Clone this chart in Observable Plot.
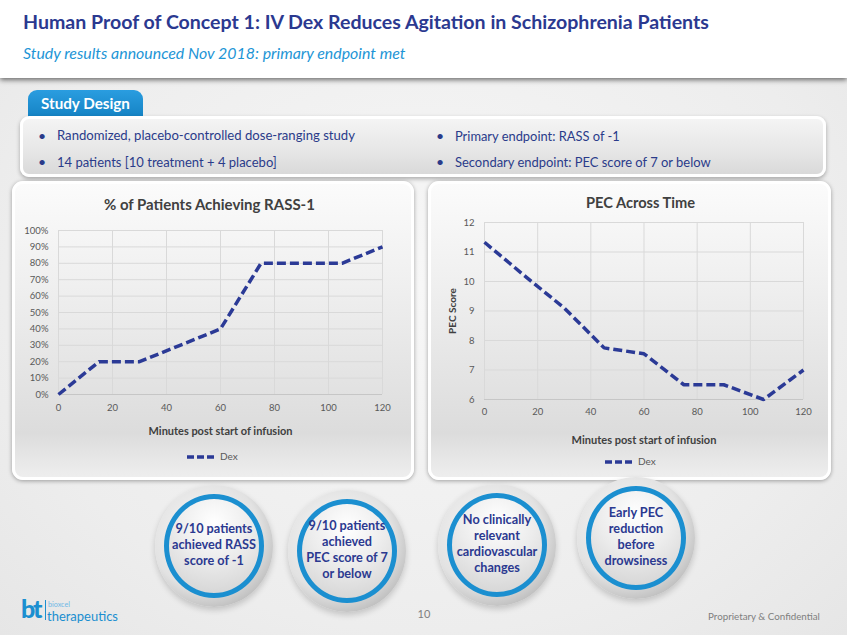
<!DOCTYPE html>
<html><head><meta charset="utf-8">
<script src="https://cdn.jsdelivr.net/npm/d3@7"></script>
<script src="https://cdn.jsdelivr.net/npm/@observablehq/plot@0.6"></script>
<style>
html,body{margin:0;padding:0;}
body{width:847px;height:635px;overflow:hidden;position:relative;font-family:Lato,"Open Sans",sans-serif;
 background:radial-gradient(ellipse at 50% 45%,#f7f7f7 0%,#ededed 70%,#e6e6e6 100%);}
.abs{position:absolute;white-space:nowrap;line-height:1.15;}
#header{position:absolute;left:0;top:0;width:847px;height:78px;background:#fff;box-shadow:0 2px 5px rgba(0,0,0,0.55);}
#tab{position:absolute;left:28px;top:90px;width:115px;height:27px;background:linear-gradient(180deg,#2a9de0,#1583c4);border-radius:9px 9px 0 0;}
#box{position:absolute;left:20px;top:116px;width:800px;height:55px;border:3px solid #fff;border-radius:9px;
 background:linear-gradient(180deg,#f4f4f4 0%,#e6e6e6 60%,#d9d9d9 100%);box-shadow:0 2px 4px rgba(0,0,0,0.3);}
.panel{position:absolute;border:3px solid #fff;border-radius:11px;box-shadow:0 1px 4px rgba(0,0,0,0.35);
 background:linear-gradient(180deg,#fbfbfb 0%,#efefef 35%,#e2e2e2 70%,#dcdcdc 85%,#eeeeee 100%);}
.navy{color:#2b3990;}
.ct{font-weight:700;color:#404040;}
.halo{position:absolute;border-radius:50%;
 background:radial-gradient(circle at 42% 40%,#fafafa 0%,#e2e2e2 55%,#b9b9b9 80%,#e4e4e4 100%);
 box-shadow:0 3px 6px rgba(0,0,0,0.18);}
.ring{position:absolute;border-radius:50%;border:5px solid #1b8fd0;box-sizing:border-box;
 background:radial-gradient(circle at 50% 25%,#ffffff 0%,#ececec 45%,#cfcfcf 100%);}
.ctext{position:absolute;text-align:center;font-weight:700;color:#2b3990;line-height:1.25;white-space:nowrap;}
svg.plot text{font-family:Lato,sans-serif;}
</style></head>
<body>
<div id="header"></div>
<div id="tab"></div>
<div id="box"></div>
<div class="panel" id="pL" style="left:12px;top:181px;width:396px;height:293px;"></div>
<div class="panel" id="pR" style="left:428px;top:181px;width:397px;height:293px;"></div>
<script>
// ---------- data ----------
const minutes   = [0, 15, 30, 45, 60, 75, 90, 105, 120];
const rassPct   = [0, 20, 20, 30, 40, 80, 80, 80, 90];
const pecScore  = [11.33, 10.2, 9.1, 7.75, 7.55, 6.5, 6.5, 6.0, 7.0];
const xTicks    = [0, 20, 40, 60, 80, 100, 120];
const pctTicks  = [0, 10, 20, 30, 40, 50, 60, 70, 80, 90, 100];
const pecTicks  = [6, 7, 8, 9, 10, 11, 12];
const seriesName = "Dex";
const xLabel = "Minutes post start of infusion";
const titleL = "% of Patients Achieving RASS-1";
const titleR = "PEC Across Time";
const yLabelR = "PEC Score";
const bullets = [
  "Randomized, placebo-controlled dose-ranging study",
  "14 patients [10 treatment + 4 placebo]",
  "Primary endpoint: RASS of -1",
  "Secondary endpoint: PEC score of 7 or below"
];
const circleTexts = [
  ["9/10 patients","achieved RASS","score of -1"],
  ["9/10 patients","achieved","PEC score of 7","or below"],
  ["No clinically","relevant","cardiovascular","changes"],
  ["Early PEC","reduction","before","drowsiness"]
];

const LINE = "#2b3a96";
const rassData = minutes.map((m,i)=>({m, v:rassPct[i]}));
const pecData  = minutes.map((m,i)=>({m, v:pecScore[i]}));

// ---------- helpers ----------
function txt(s, cls, style){
  const e=document.createElement("div"); e.className="abs "+(cls||""); e.textContent=s;
  Object.assign(e.style, style||{}); document.body.appendChild(e); return e;
}
function fit(el, w){
  el.style.fontSize="20px";
  const r=el.getBoundingClientRect().width;
  el.style.fontSize=(20*w/r)+"px";
}
function put(el, x, cy, w, center){
  if(w) fit(el,w);
  const r=el.getBoundingClientRect();
  el.style.left=(center? x-r.width/2 : x)+"px";
  el.style.top=(cy-r.height/2)+"px";
}

// ---------- header texts ----------
put(txt("Human Proof of Concept 1: IV Dex Reduces Agitation in Schizophrenia Patients","navy",{fontWeight:700}),23,22,686);
put(txt("Study results announced Nov 2018: primary endpoint met","",{fontStyle:"italic",color:"#1d95d6"}),23,53,383);
put(txt("Study Design","",{fontWeight:700,color:"#fff"}),41,104,89);

const bpos=[[57,136,298],[57,162,220],[455,136,165],[455,162,256]];
bullets.forEach((b,i)=>{
  const [x,cy,w]=bpos[i];
  put(txt(b,"",{color:"#2a3b8a"}),x,cy,w);
  const d=txt("\u2022","",{color:"#2a3b8a",fontSize:"14px"}); put(d,x-19,cy);
});

// ---------- charts ----------
function styleSvg(svg){
  svg.style.position="absolute"; svg.style.overflow="visible";
  return svg;
}
const common = {
  style:{background:"transparent",fontFamily:"Lato, sans-serif",fontSize:"9.5px",color:"#595959"}
};
const lineStyle = {stroke:LINE,strokeWidth:3.5,strokeDasharray:"9,4",strokeLinecap:"butt",strokeLinejoin:"miter"};

const chartL = Plot.plot({
  ...common, width:400, height:232, marginLeft:48, marginRight:28, marginTop:15, marginBottom:53,
  x:{domain:[0,120]}, y:{domain:[0,100]},
  marks:[
    Plot.gridX(xTicks,{stroke:"#d9d9d9",strokeOpacity:1}),
    Plot.gridY(pctTicks,{stroke:"#d9d9d9",strokeOpacity:1}),
    Plot.ruleY([0],{stroke:"#c6c6c6"}),
    Plot.axisX(xTicks,{tickSize:0,tickPadding:10,fill:"#595959",label:xLabel,labelAnchor:"center",labelArrow:"none",labelOffset:40}),
    Plot.axisY(pctTicks,{tickSize:0,tickPadding:10,fill:"#595959",tickFormat:d=>d+"%",label:null}),
    Plot.line(rassData,{x:"m",y:"v",...lineStyle})
  ]
});
styleSvg(chartL); chartL.style.left="10px"; chartL.style.top="215px";
document.body.appendChild(chartL);

const chartR = Plot.plot({
  ...common, width:400, height:245, marginLeft:56, marginRight:25, marginTop:12, marginBottom:56,
  x:{domain:[0,120]}, y:{domain:[6,12]},
  marks:[
    Plot.gridX(xTicks,{stroke:"#d9d9d9",strokeOpacity:1}),
    Plot.gridY(pecTicks,{stroke:"#d9d9d9",strokeOpacity:1}),
    Plot.ruleY([6],{stroke:"#c6c6c6"}),
    Plot.axisX(xTicks,{tickSize:0,tickPadding:9,fill:"#595959",label:xLabel,labelAnchor:"center",labelArrow:"none",labelOffset:44}),
    Plot.axisY(pecTicks,{tickSize:0,tickPadding:10,fill:"#595959",label:yLabelR,labelAnchor:"center",labelArrow:"none",labelOffset:36}),
    Plot.line(pecData,{x:"m",y:"v",...lineStyle})
  ]
});
styleSvg(chartR); chartR.style.left="428px"; chartR.style.top="210px";
document.body.appendChild(chartR);

// style axis labels
[chartL,chartR].forEach(svg=>{
  svg.querySelectorAll('g[aria-label$="-axis label"] text').forEach(t=>{
    t.style.fontWeight="700"; t.style.fill="#404040"; t.setAttribute("fill","#404040");
  });
});
function fitSvgText(svg, sel, w){
  const t=svg.querySelector(sel+" text"); if(!t) return;
  t.style.fontSize="20px";
  const bb=t.getBBox(); t.style.fontSize=(20*w/bb.width)+"px";
}
fitSvgText(chartL,'g[aria-label="x-axis label"]',144);
fitSvgText(chartR,'g[aria-label="x-axis label"]',145);
fitSvgText(chartR,'g[aria-label="y-axis label"]',46);

// chart titles
put(txt(titleL,"ct"),104,205,211);
put(txt(titleR,"ct"),586,203,109);

// legends
function legend(x1,x2,tx,cy){
  const s=document.createElementNS("http://www.w3.org/2000/svg","svg");
  s.setAttribute("width",x2-x1); s.setAttribute("height",8);
  s.style.position="absolute"; s.style.left=x1+"px"; s.style.top=(cy-4)+"px";
  s.innerHTML=`<line x1="0" y1="4" x2="${x2-x1}" y2="4" stroke="${LINE}" stroke-width="3.5" stroke-dasharray="7,3"/>`;
  document.body.appendChild(s);
  put(txt(seriesName,"",{color:"#595959",fontSize:"10px"}),tx,cy);
}
legend(187,215,220,457);
legend(605,633,638,462);

// ---------- circles ----------
const centers=[[214,546],[347,551],[497,545],[636,538]];
centers.forEach(([cx,cy],i)=>{
  const h=document.createElement("div"); h.className="halo";
  Object.assign(h.style,{left:(cx-59)+"px",top:(cy-61)+"px",width:"118px",height:"122px"});
  document.body.appendChild(h);
  const r=document.createElement("div"); r.className="ring";
  Object.assign(r.style,{left:(cx-50)+"px",top:(cy-52)+"px",width:"100px",height:"104px"});
  document.body.appendChild(r);
});
const probe=txt("achieved RASS","",{fontWeight:700}); fit(probe,84);
const cfs=parseFloat(probe.style.fontSize); probe.remove();
centers.forEach(([cx,cy],i)=>{
  const e=document.createElement("div"); e.className="ctext";
  e.style.fontSize=cfs+"px"; e.style.lineHeight=(cfs*1.27)+"px";
  e.innerHTML=circleTexts[i].join("<br>");
  document.body.appendChild(e);
  const r=e.getBoundingClientRect();
  e.style.left=(cx-r.width/2)+"px"; e.style.top=(cy-r.height/2-2)+"px";
});

// ---------- footer ----------
put(txt("10","",{color:"#7f7f7f",fontSize:"11px"}),424,614,null,true);
put(txt("Proprietary & Confidential","",{color:"#7f7f7f"}),708,617,112);
put(txt("bt","",{fontWeight:900,color:"#1b8fd0",fontSize:"25px",letterSpacing:"-2px"}),21,608);
const sep=document.createElement("div");
Object.assign(sep.style,{position:"absolute",left:"45px",top:"600px",width:"1px",height:"20px",background:"#1b8fd0"});
document.body.appendChild(sep);
put(txt("bioxcel","",{color:"#6fb8e6"}),48,605,22);
put(txt("therapeutics","",{color:"#1b8fd0"}),47,616,71);
</script>
</body></html>
